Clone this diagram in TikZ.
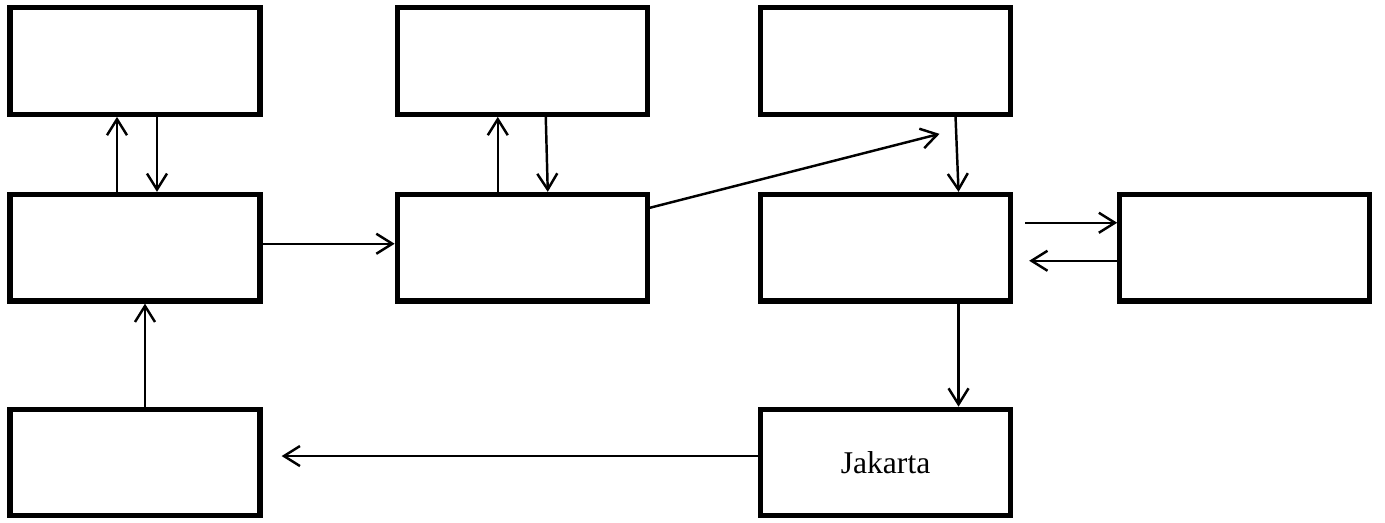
\documentclass[tikz,border=0pt]{standalone}
\usepackage{fontspec}
\setmainfont{Liberation Serif}
\usetikzlibrary{arrows.meta,positioning}

\begin{document}
\begin{tikzpicture}[node distance=1.5cm, auto]
\tikzset{
    mybox/.style={rectangle, draw=black, line width=3pt, minimum width=5.0cm, minimum height=2.13cm, inner sep=0pt, font=\fontsize{18}{22}\selectfont},
    myarrow/.style={-{Straight Barb[length=0.32cm, width=0.4cm]}, line width=1.4pt}
}
\useasboundingbox (-2.7,1.22) rectangle (25.0,-9.24);

\node[mybox] (tl) {};
\node[mybox, below=1.5cm of tl] (ml) {};
\node[mybox, below=2.06cm of ml] (bl) {};
\node[mybox, right=2.64cm of tl] (tm) {};
\node[mybox, right=2.64cm of ml] (mm) {};
\node[mybox, right=2.16cm of tm] (tr) {};
\node[mybox, right=2.16cm of mm] (mr) {};
\node[mybox, right=2.08cm of mr] (far) {};
\node[mybox, below=2.06cm of mr] (jakarta) {Jakarta};
% The slanted arrow stops short of the top right box.
\coordinate (trin) at ([xshift=1.08cm, yshift=-0.34cm]tr.south);

\draw[myarrow] ([xshift=-0.36cm]ml.north) -- ([xshift=-0.36cm]tl.south);
\draw[myarrow] ([xshift=0.44cm]tl.south) -- ([xshift=0.44cm]ml.north);
\draw[myarrow] ([xshift=0.2cm]bl.north) -- ([xshift=0.2cm]ml.south);
\draw[myarrow] ([yshift=0.08cm]ml.east) -- ([yshift=0.08cm]mm.west);
\draw[myarrow] ([xshift=-0.49cm]mm.north) -- ([xshift=-0.49cm]tm.south);
\draw[myarrow] ([xshift=0.47cm]tm.south) -- ([xshift=0.51cm]mm.north);
\draw[myarrow] ([yshift=0.8cm]mm.east) -- (trin);
\draw[myarrow] ([xshift=1.4cm]tr.south) -- ([xshift=1.46cm]mr.north);
\draw[myarrow] ([xshift=0.24cm, yshift=0.5cm]mr.east) -- ([yshift=0.5cm]far.west);
\draw[myarrow] ([yshift=-0.26cm]far.west) -- ([xshift=0.32cm, yshift=-0.26cm]mr.east);
\draw[myarrow] ([xshift=1.46cm]mr.south) -- ([xshift=1.46cm]jakarta.north);
\draw[myarrow] ([yshift=0.13cm]jakarta.west) -- ([xshift=0.38cm, yshift=0.13cm]bl.east);
% The two arrows between the middle right boxes leave a gap on the left side.

\end{tikzpicture}
\end{document}
